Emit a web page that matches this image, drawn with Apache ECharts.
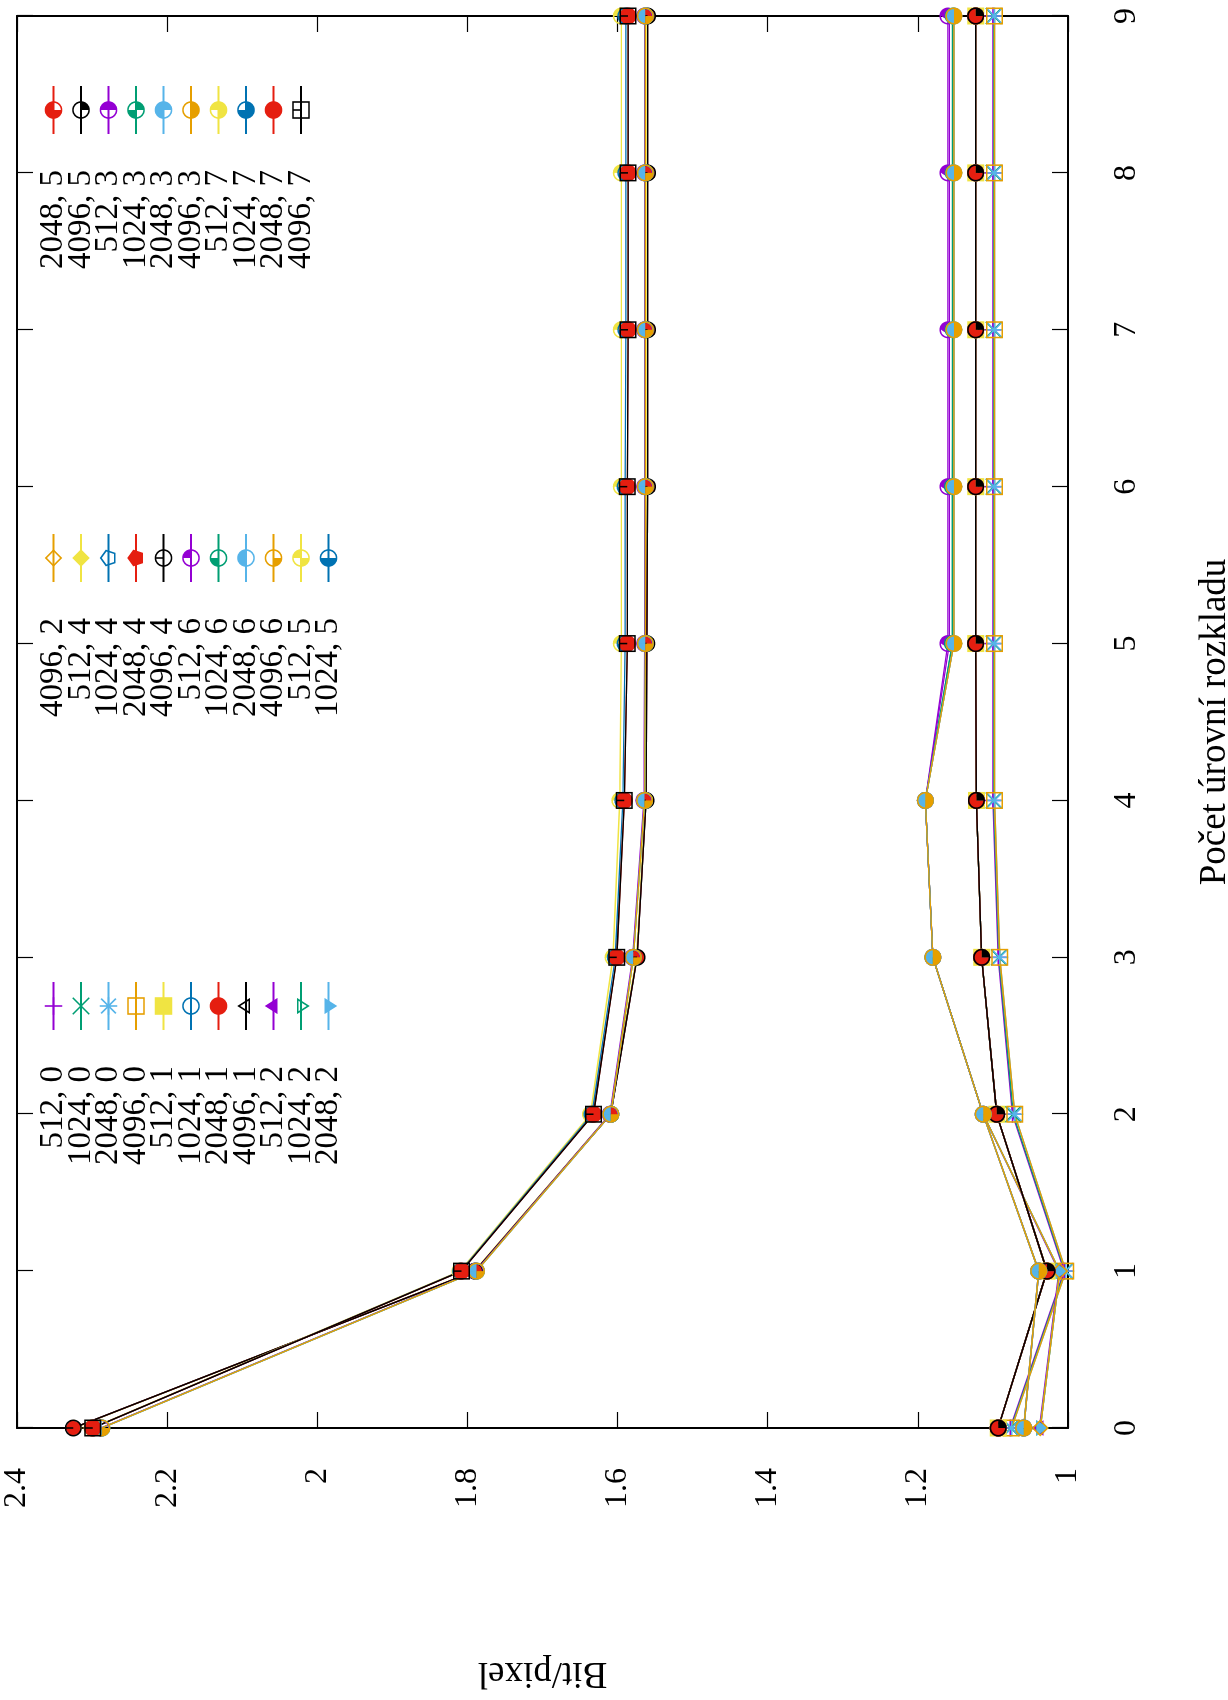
<!DOCTYPE html>
<html>
<head>
<meta charset="utf-8">
<script src="https://cdn.jsdelivr.net/npm/echarts@6/dist/echarts.min.js"></script>
<style>
  html, body { margin: 0; padding: 0; background: #fff; overflow: hidden; width: 1228px; height: 1700px; }
  /* the plot is laid out landscape and turned a quarter turn counter-clockwise */
  #chart { position: absolute; left: 0; top: 0; width: 1700px; height: 1228px;
           transform-origin: 0 0; transform: translate(0, 1700px) rotate(-90deg); }
</style>
</head>
<body>
<div id="chart"></div>
<script>
// ---- data: bit/pixel per number of decomposition levels ----
const levels = [0, 1, 2, 3, 4, 5, 6, 7, 8, 9];

const seriesNames = [
  '512, 0', '1024, 0', '2048, 0', '4096, 0',
  '512, 1', '1024, 1', '2048, 1', '4096, 1',
  '512, 2', '1024, 2', '2048, 2', '4096, 2',
  '512, 4', '1024, 4', '2048, 4', '4096, 4',
  '512, 6', '1024, 6', '2048, 6', '4096, 6',
  '512, 5', '1024, 5', '2048, 5', '4096, 5',
  '512, 3', '1024, 3', '2048, 3', '4096, 3',
  '512, 7', '1024, 7', '2048, 7', '4096, 7'
];

const s512_0  = [1.077, 1.005, 1.074, 1.093, 1.100, 1.100, 1.100, 1.100, 1.100, 1.100];
const s1024_0 = [1.076, 1.004, 1.073, 1.092, 1.099, 1.099, 1.099, 1.099, 1.099, 1.099];
const s2048_0 = [1.075, 1.003, 1.071, 1.091, 1.098, 1.098, 1.098, 1.098, 1.098, 1.098];
const s4096_0 = [1.075, 1.003, 1.071, 1.091, 1.098, 1.098, 1.098, 1.098, 1.098, 1.098];

const s512_1  = [1.093, 1.028, 1.095, 1.115, 1.122, 1.123, 1.123, 1.123, 1.123, 1.123];
const s1024_1 = [1.093, 1.028, 1.095, 1.115, 1.122, 1.123, 1.123, 1.123, 1.123, 1.123];
const s2048_1 = [1.093, 1.028, 1.095, 1.115, 1.122, 1.123, 1.123, 1.123, 1.123, 1.123];
const s4096_1 = [1.093, 1.028, 1.095, 1.115, 1.122, 1.123, 1.123, 1.123, 1.123, 1.123];

const s512_2  = [1.038, 1.012, 1.113, 1.180, 1.190, 1.158, 1.158, 1.158, 1.158, 1.158];
const s1024_2 = [1.037, 1.011, 1.113, 1.180, 1.190, 1.154, 1.154, 1.154, 1.154, 1.154];
const s2048_2 = [1.037, 1.011, 1.113, 1.180, 1.190, 1.152, 1.152, 1.152, 1.152, 1.152];
const s4096_2 = [1.037, 1.011, 1.113, 1.180, 1.190, 1.152, 1.152, 1.152, 1.152, 1.152];

const s512_4  = [2.324, 1.791, 1.610, 1.575, 1.563, 1.562, 1.561, 1.561, 1.561, 1.561];
const s1024_4 = [2.325, 1.790, 1.609, 1.574, 1.562, 1.561, 1.560, 1.560, 1.560, 1.560];
const s2048_4 = [2.325, 1.790, 1.609, 1.574, 1.562, 1.561, 1.560, 1.560, 1.560, 1.560];
const s4096_4 = [2.325, 1.790, 1.609, 1.574, 1.562, 1.561, 1.560, 1.560, 1.560, 1.560];

const s512_6  = [2.288, 1.789, 1.610, 1.580, 1.565, 1.564, 1.564, 1.564, 1.564, 1.564];
const s1024_6 = [2.287, 1.788, 1.609, 1.579, 1.564, 1.563, 1.563, 1.563, 1.563, 1.563];
const s2048_6 = [2.287, 1.788, 1.609, 1.579, 1.564, 1.563, 1.563, 1.563, 1.563, 1.563];
const s4096_6 = [2.287, 1.788, 1.609, 1.579, 1.564, 1.563, 1.563, 1.563, 1.563, 1.563];

const s512_5  = [1.093, 1.028, 1.095, 1.115, 1.122, 1.123, 1.123, 1.123, 1.123, 1.123];
const s1024_5 = [1.093, 1.028, 1.095, 1.115, 1.122, 1.123, 1.123, 1.123, 1.123, 1.123];
const s2048_5 = [1.093, 1.028, 1.095, 1.115, 1.122, 1.123, 1.123, 1.123, 1.123, 1.123];
const s4096_5 = [1.093, 1.028, 1.095, 1.115, 1.122, 1.123, 1.123, 1.123, 1.123, 1.123];

const s512_3  = [1.059, 1.039, 1.113, 1.180, 1.190, 1.160, 1.160, 1.160, 1.160, 1.160];
const s1024_3 = [1.059, 1.039, 1.113, 1.180, 1.190, 1.154, 1.154, 1.153, 1.153, 1.153];
const s2048_3 = [1.059, 1.039, 1.113, 1.180, 1.190, 1.152, 1.152, 1.152, 1.152, 1.152];
const s4096_3 = [1.059, 1.039, 1.113, 1.180, 1.190, 1.152, 1.152, 1.152, 1.152, 1.152];

const s512_7  = [2.300, 1.810, 1.636, 1.606, 1.597, 1.595, 1.595, 1.595, 1.595, 1.595];
const s1024_7 = [2.299, 1.809, 1.634, 1.603, 1.593, 1.590, 1.590, 1.589, 1.589, 1.589];
const s2048_7 = [2.299, 1.808, 1.632, 1.601, 1.591, 1.587, 1.587, 1.586, 1.586, 1.586];
const s4096_7 = [2.299, 1.808, 1.632, 1.601, 1.591, 1.587, 1.587, 1.586, 1.586, 1.586];

const seriesValues = [
  s512_0, s1024_0, s2048_0, s4096_0,
  s512_1, s1024_1, s2048_1, s4096_1,
  s512_2, s1024_2, s2048_2, s4096_2,
  s512_4, s1024_4, s2048_4, s4096_4,
  s512_6, s1024_6, s2048_6, s4096_6,
  s512_5, s1024_5, s2048_5, s4096_5,
  s512_3, s1024_3, s2048_3, s4096_3,
  s512_7, s1024_7, s2048_7, s4096_7
];

// ---- style ----
const palette = ['#9400d3', '#009e73', '#56b4e9', '#e69f00', '#f0e442', '#0072b2', '#e51e10', '#000000'];
const FONT = 'Liberation Serif';

// ---- point shapes, built as filled outlines in a 100x100 box ----
const T = 9; // outline thickness in box units
function fmt(v) { return String(Math.round(v * 100) / 100); }
function area(p) {
  let a = 0;
  for (let i = 0; i < p.length; i++) { const q = p[(i + 1) % p.length]; a += p[i][0] * q[1] - q[0] * p[i][1]; }
  return a / 2;
}
function sub(p, hole) {
  const q = p.slice();
  if ((area(q) > 0) === hole) q.reverse();
  return 'M' + q.map(v => fmt(v[0]) + ' ' + fmt(v[1])).join('L') + 'Z';
}
function circlePts(r, n) {
  n = n || 48; const out = [];
  for (let k = 0; k < n; k++) { const t = 2 * Math.PI * k / n; out.push([50 + r * Math.cos(t), 50 - r * Math.sin(t)]); }
  return out;
}
function sector(q) {
  const out = [[50, 50]];
  for (let k = 0; k <= 12; k++) {
    const t = (q * 90 + 90 * k / 12) * Math.PI / 180;
    out.push([50 + 46 * Math.cos(t), 50 - 46 * Math.sin(t)]);
  }
  return out;
}
function bar(x1, y1, x2, y2, w) {
  const dx = x2 - x1, dy = y2 - y1, L = Math.hypot(dx, dy);
  const nx = -dy / L * w / 2, ny = dx / L * w / 2;
  return [[x1 + nx, y1 + ny], [x2 + nx, y2 + ny], [x2 - nx, y2 - ny], [x1 - nx, y1 - ny]];
}
function inset(p, t) {
  const cx = p.reduce((s, v) => s + v[0], 0) / p.length;
  const cy = p.reduce((s, v) => s + v[1], 0) / p.length;
  const lines = p.map((a, i) => {
    const b = p[(i + 1) % p.length];
    const dx = b[0] - a[0], dy = b[1] - a[1], L = Math.hypot(dx, dy);
    let nx = -dy / L, ny = dx / L;
    if ((cx - a[0]) * nx + (cy - a[1]) * ny < 0) { nx = -nx; ny = -ny; }
    return { px: a[0] + nx * t, py: a[1] + ny * t, dx: dx / L, dy: dy / L };
  });
  return lines.map((l1, i) => {
    const l0 = lines[(i - 1 + lines.length) % lines.length];
    const den = l0.dx * l1.dy - l0.dy * l1.dx;
    const s = ((l1.px - l0.px) * l1.dy - (l1.py - l0.py) * l1.dx) / den;
    return [l0.px + l0.dx * s, l0.py + l0.dy * s];
  });
}
const ANCHOR = 'M0 0L0.02 0L0 0.02ZM100 100L99.98 100L100 99.98Z';
const SQ = [[0, 0], [100, 0], [100, 100], [0, 100]];
const TRI_U = [[50, 0], [4, 73], [96, 73]];
const TRI_D = [[50, 100], [96, 27], [4, 27]];
const DIA = [[50, 0], [100, 50], [50, 100], [0, 50]];
const PENT = [0, 1, 2, 3, 4].map(k => { const t = (90 + 72 * k) * Math.PI / 180; return [50 + 50 * Math.cos(t), 50 - 50 * Math.sin(t)]; });
const CIRC = circlePts(50);
function open(p) { return sub(p, false) + sub(inset(p, T), true); }
function filled(p) { return sub(p, false); }
function quadCircle(n) {
  let d = open(CIRC);
  for (let q = 0; q < 4; q++) if (n & (1 << q)) d += sub(sector(q), false);
  if (n === 0) d += sub(bar(50, 50, 50, 4, T), false);
  return d;
}
function pointPath(pt) {
  let d;
  if (pt === 1) d = sub(bar(0, 50, 100, 50, T), false) + sub(bar(50, 0, 50, 100, T), false);
  else if (pt === 2) d = sub(bar(3, 3, 97, 97, T), false) + sub(bar(3, 97, 97, 3, T), false);
  else if (pt === 3) d = sub(bar(0, 50, 100, 50, T), false) + sub(bar(50, 0, 50, 100, T), false) +
                         sub(bar(8, 8, 92, 92, T), false) + sub(bar(8, 92, 92, 8, T), false);
  else if (pt === 4) d = open(SQ);
  else if (pt === 5) d = filled(SQ);
  else if (pt === 6) d = open(CIRC);
  else if (pt === 7) d = filled(CIRC);
  else if (pt === 8) d = open(TRI_U);
  else if (pt === 9) d = filled(TRI_U);
  else if (pt === 10) d = open(TRI_D);
  else if (pt === 11) d = filled(TRI_D);
  else if (pt === 12) d = open(DIA);
  else if (pt === 13) d = filled(DIA);
  else if (pt === 14) d = open(PENT);
  else if (pt === 15) d = filled(PENT);
  else if (pt >= 16 && pt <= 31) d = quadCircle(pt - 16);
  else d = open(SQ) + sub(bar(50, 50, 50, 4, T), false);
  return 'path://' + d + ANCHOR;
}

// ---- series ----
const series = seriesNames.map((name, i) => {
  const color = palette[i % palette.length];
  return {
    name: name,
    type: 'line',
    data: levels.map((lv, k) => [lv, seriesValues[i][k]]),
    symbol: pointPath(i + 1),
    symbolSize: 17,
    showSymbol: true,
    clip: false,
    lineStyle: { color: color, width: 1.4 },
    itemStyle: { color: color, borderWidth: 0 },
    emphasis: { disabled: true },
    z: 2
  };
});

// ---- legend blocks ----
function legendBlock(from, to, right) {
  return {
    data: seriesNames.slice(from, to),
    orient: 'vertical',
    align: 'right',
    right: right,
    top: 37,
    padding: 0,
    itemGap: -5.5,
    itemWidth: 48,
    itemHeight: 22,
    selectedMode: false,
    textStyle: { fontFamily: FONT, fontSize: 33, color: '#000', padding: [0, 31, 0, 0] }
  };
}

const axisLineStyle = { show: true, onZero: false, lineStyle: { color: '#000', width: 2 } };
const tickStyle = { show: true, inside: true, length: 16, lineStyle: { color: '#000', width: 1.2 } };
const labelStyle = { fontFamily: FONT, fontSize: 32, color: '#000' };

const option = {
  animation: false,
  backgroundColor: '#fff',
  textStyle: { fontFamily: FONT },
  grid: { left: 272, right: 16, top: 17, bottom: 160, containLabel: false, outerBoundsMode: 'none' },
  legend: [legendBlock(0, 11, 981), legendBlock(11, 22, 533), legendBlock(22, 32, 85)],
  xAxis: [
    {
      type: 'value', min: 0, max: 9, interval: 1, position: 'bottom',
      name: 'Počet úrovní rozkladu', nameLocation: 'middle', nameGap: 129, nameMoveOverlap: false,
      nameTextStyle: { fontFamily: FONT, fontSize: 37, color: '#000' },
      axisLine: axisLineStyle, axisTick: tickStyle,
      axisLabel: Object.assign({ margin: 43 }, labelStyle),
      splitLine: { show: false }
    },
    {
      type: 'value', min: 0, max: 9, interval: 1, position: 'top',
      axisLine: axisLineStyle, axisTick: tickStyle, axisLabel: { show: false }, splitLine: { show: false }
    }
  ],
  yAxis: [
    {
      type: 'value', min: 1, max: 2.4, interval: 0.2, position: 'left',
      name: 'Bit/pixel', nameLocation: 'middle', nameGap: 226, nameMoveOverlap: false,
      nameTextStyle: { fontFamily: FONT, fontSize: 37, color: '#000' },
      axisLine: axisLineStyle, axisTick: tickStyle,
      axisLabel: Object.assign({ margin: 40 }, labelStyle),
      splitLine: { show: false }
    },
    {
      type: 'value', min: 1, max: 2.4, interval: 0.2, position: 'right',
      axisLine: axisLineStyle, axisTick: tickStyle, axisLabel: { show: false }, splitLine: { show: false }
    }
  ],
  series: series
};

const chart = echarts.init(document.getElementById('chart'), null, { renderer: 'canvas', width: 1700, height: 1228 });
chart.setOption(option);
</script>
</body>
</html>
